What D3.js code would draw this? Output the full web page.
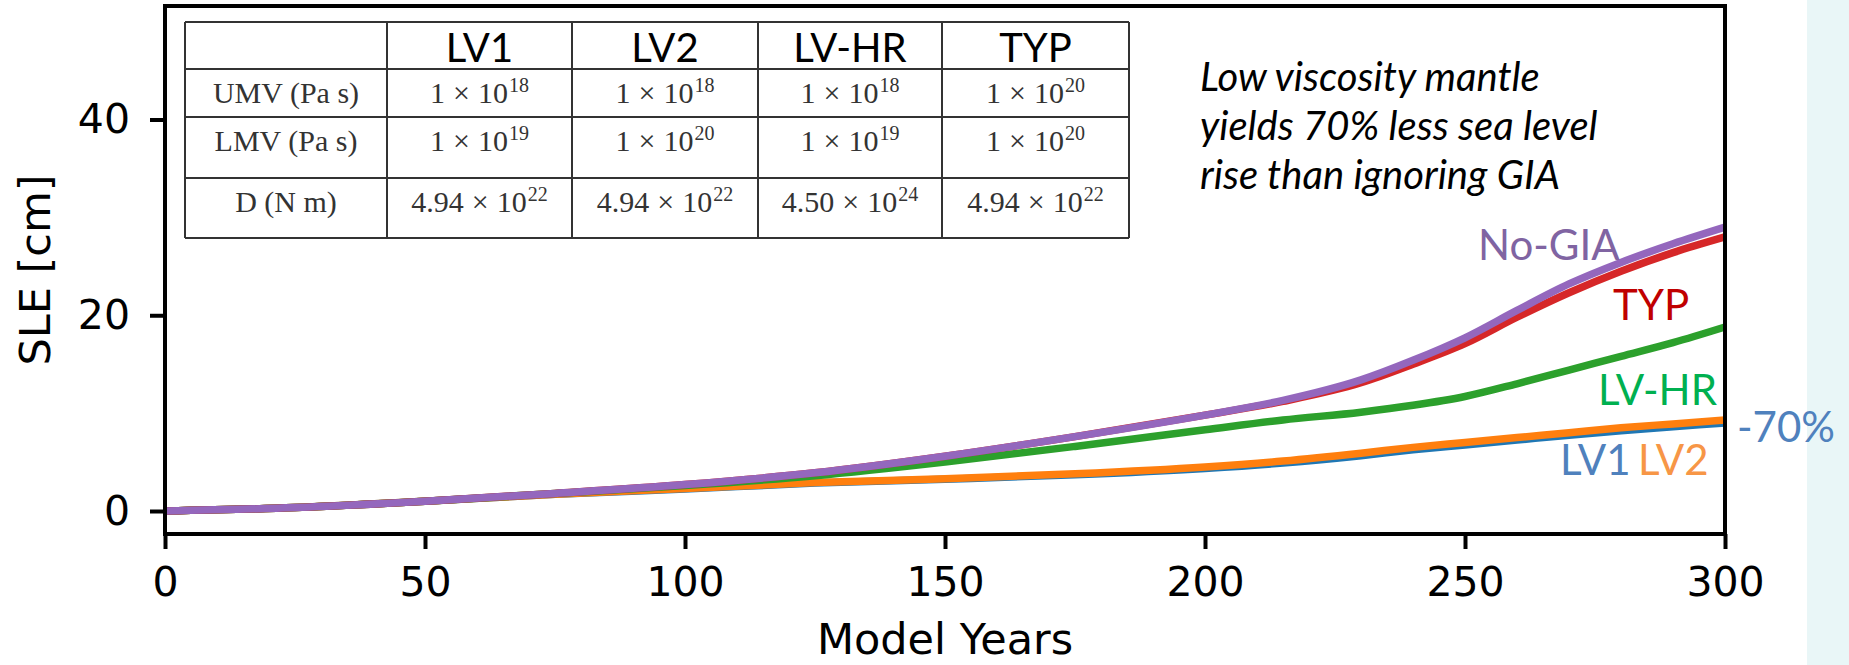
<!DOCTYPE html>
<html>
<head>
<meta charset="utf-8">
<script src="https://cdn.jsdelivr.net/npm/d3@7"></script>
<style>
  body { margin: 0; background: #fff; }
  svg { display: block; }
</style>
</head>
<body>
<div id="chart"></div>
<script>
// model years sampled along the curves
var years = [0, 25, 50, 75, 100, 125, 150, 175, 200, 215, 230, 240, 250, 260, 270, 280, 290, 300];

// SLE [cm]
var noGIA = [0, 0.35, 1.0, 1.8, 2.7, 3.9, 5.6, 7.6, 9.8, 11.3, 13.4, 15.4, 17.7, 20.5, 23.2, 25.4, 27.3, 29.0];
var typ   = [0, 0.35, 1.0, 1.8, 2.7, 3.9, 5.6, 7.6, 9.8, 11.2, 13.1, 15.0, 17.1, 19.8, 22.3, 24.5, 26.4, 28.0];
var lvHR  = [0, 0.35, 1.0, 1.8, 2.6, 3.6, 5.0, 6.6, 8.3, 9.3, 10.1, 10.8, 11.7, 13.0, 14.4, 15.8, 17.2, 18.8];
var lv2   = [0, 0.35, 1.0, 1.7, 2.3, 2.9, 3.3, 3.8, 4.5, 5.1, 5.9, 6.5, 7.0, 7.5, 8.0, 8.5, 8.9, 9.3];
var lv1   = [0, 0.35, 1.0, 1.7, 2.25, 2.85, 3.25, 3.7, 4.35, 4.9, 5.65, 6.25, 6.75, 7.25, 7.75, 8.2, 8.6, 9.0];

var xTicks = [0, 50, 100, 150, 200, 250, 300];
var yTicks = [0, 20, 40];

// table contents
var tableCols = ["LV1", "LV2", "LV-HR", "TYP"];
var tableRowLabels = ["UMV (Pa s)", "LMV (Pa s)", "D (N m)"];
var umvMant = ["1", "1", "1", "1"];
var umvExp = ["18", "18", "18", "20"];
var lmvMant = ["1", "1", "1", "1"];
var lmvExp = ["19", "20", "19", "20"];
var dMant = ["4.94", "4.94", "4.50", "4.94"];
var dExp = ["22", "22", "24", "22"];

var W = 1849, H = 665;
// plot box (window.top is read-only, so keep these in an object)
var box = {left: 165, right: 1725, top: 6, bottom: 534};

var svg = d3.select("#chart")
  .append("svg")
  .attr("width", W)
  .attr("height", H);

// slide background strip on the right
svg.append("rect")
  .attr("x", 1807).attr("y", 0)
  .attr("width", W - 1807).attr("height", H)
  .attr("fill", "#e9f6f7");

var xScale = d3.scaleLinear().domain([0, 300]).range([box.left, box.right]);
var yScale = d3.scaleLinear().domain([-2.35, 51.6]).range([box.bottom, box.top]);

// axes
var xAxis = svg.append("g")
  .attr("transform", "translate(0," + box.bottom + ")")
  .call(d3.axisBottom(xScale).tickValues(xTicks).tickSize(15).tickSizeOuter(0).tickPadding(18));

var yAxis = svg.append("g")
  .attr("transform", "translate(" + box.left + ",0)")
  .call(d3.axisLeft(yScale).tickValues(yTicks).tickSize(15).tickSizeOuter(0).tickPadding(20));

[xAxis, yAxis].forEach(function(ax) {
  ax.select(".domain").remove();
  ax.selectAll(".tick line").attr("stroke", "#000").attr("stroke-width", 4);
  ax.selectAll(".tick text")
    .attr("fill", "#000")
    .style("font-family", "DejaVu Sans")
    .style("font-size", "41px");
});

// curves
var line = d3.line()
  .x(function(d) { return xScale(d[0]); })
  .y(function(d) { return yScale(d[1]); })
  .curve(d3.curveMonotoneX);

var series = [
  {vals: lv1, color: "#1f77b4"},
  {vals: lv2, color: "#ff7f0e"},
  {vals: lvHR, color: "#2ca02c"},
  {vals: typ, color: "#d62728"},
  {vals: noGIA, color: "#9467bd"}
];

series.forEach(function(s) {
  svg.append("path")
    .datum(years.map(function(y, i) { return [y, s.vals[i]]; }))
    .attr("d", line)
    .attr("fill", "none")
    .attr("stroke", s.color)
    .attr("stroke-width", 7.5)
    .attr("stroke-linejoin", "round");
});

// frame
svg.append("rect")
  .attr("x", box.left).attr("y", box.top)
  .attr("width", box.right - box.left).attr("height", box.bottom - box.top)
  .attr("fill", "none")
  .attr("stroke", "#000")
  .attr("stroke-width", 4);

// axis titles
svg.append("text")
  .attr("x", (box.left + box.right) / 2)
  .attr("y", 654)
  .attr("text-anchor", "middle")
  .style("font-family", "DejaVu Sans")
  .style("font-size", "43px")
  .text("Model Years");

svg.append("text")
  .attr("transform", "translate(50," + (box.top + box.bottom) / 2 + ") rotate(-90)")
  .attr("text-anchor", "middle")
  .style("font-family", "DejaVu Sans")
  .style("font-size", "43px")
  .text("SLE [cm]");

// parameter table
var colX = [185, 387, 572, 758, 942, 1129];
var rowY = [22, 69, 117, 178, 238];
var table = svg.append("g");

table.append("rect")
  .attr("x", colX[0]).attr("y", rowY[0])
  .attr("width", colX[5] - colX[0]).attr("height", rowY[4] - rowY[0])
  .attr("fill", "#fff");

colX.forEach(function(x) {
  table.append("line")
    .attr("x1", x).attr("x2", x)
    .attr("y1", rowY[0]).attr("y2", rowY[4])
    .attr("stroke", "#333").attr("stroke-width", 2);
});
rowY.forEach(function(y) {
  table.append("line")
    .attr("x1", colX[0]).attr("x2", colX[5])
    .attr("y1", y).attr("y2", y)
    .attr("stroke", "#333").attr("stroke-width", 2);
});

tableCols.forEach(function(c, i) {
  table.append("text")
    .attr("x", (colX[i + 1] + colX[i + 2]) / 2)
    .attr("y", rowY[0] + 40)
    .attr("text-anchor", "middle")
    .style("font-family", "Lato")
    .style("font-size", "40px")
    .attr("fill", "#000")
    .text(c);
});

var rows = [
  {mant: umvMant, exp: umvExp},
  {mant: lmvMant, exp: lmvExp},
  {mant: dMant, exp: dExp}
];

rows.forEach(function(r, j) {
  var by = rowY[j + 1] + 34;
  table.append("text")
    .attr("x", (colX[0] + colX[1]) / 2)
    .attr("y", by)
    .attr("text-anchor", "middle")
    .style("font-family", "Liberation Serif")
    .style("font-size", "30px")
    .attr("fill", "#333")
    .text(tableRowLabels[j]);

  r.mant.forEach(function(m, i) {
    var t = table.append("text")
      .attr("x", (colX[i + 1] + colX[i + 2]) / 2)
      .attr("y", by)
      .attr("text-anchor", "middle")
      .style("font-family", "Liberation Serif")
      .style("font-size", "30px")
      .attr("fill", "#333");
    t.append("tspan").text(m);
    t.append("tspan").attr("dx", 8).text("\u00d7");
    t.append("tspan").attr("dx", 8).text("10");
    t.append("tspan")
      .attr("dx", 1)
      .attr("dy", -11)
      .style("font-size", "20px")
      .text(r.exp[i]);
  });
});

// annotation
var note = ["Low viscosity mantle", "yields 70% less sea level", "rise than ignoring GIA"];
note.forEach(function(s, i) {
  svg.append("text")
    .attr("x", 1200)
    .attr("y", 91 + i * 49)
    .style("font-family", "Lato")
    .style("font-style", "italic")
    .style("font-size", "40px")
    .attr("fill", "#000")
    .text(s);
});

// curve labels
var labels = [
  {text: "No-GIA", x: 1478, y: 260, color: "#8064a2"},
  {text: "TYP", x: 1613, y: 320, color: "#c00000"},
  {text: "LV-HR", x: 1598, y: 405, color: "#00b050"},
  {text: "LV1", x: 1560, y: 475, color: "#4f81bd"},
  {text: "LV2", x: 1638, y: 475, color: "#f79646"},
  {text: "-70%", x: 1737, y: 442, color: "#4f81bd"}
];
labels.forEach(function(l) {
  svg.append("text")
    .attr("x", l.x)
    .attr("y", l.y)
    .style("font-family", "Lato")
    .style("font-size", "42px")
    .attr("fill", l.color)
    .text(l.text);
});
</script>
</body>
</html>
